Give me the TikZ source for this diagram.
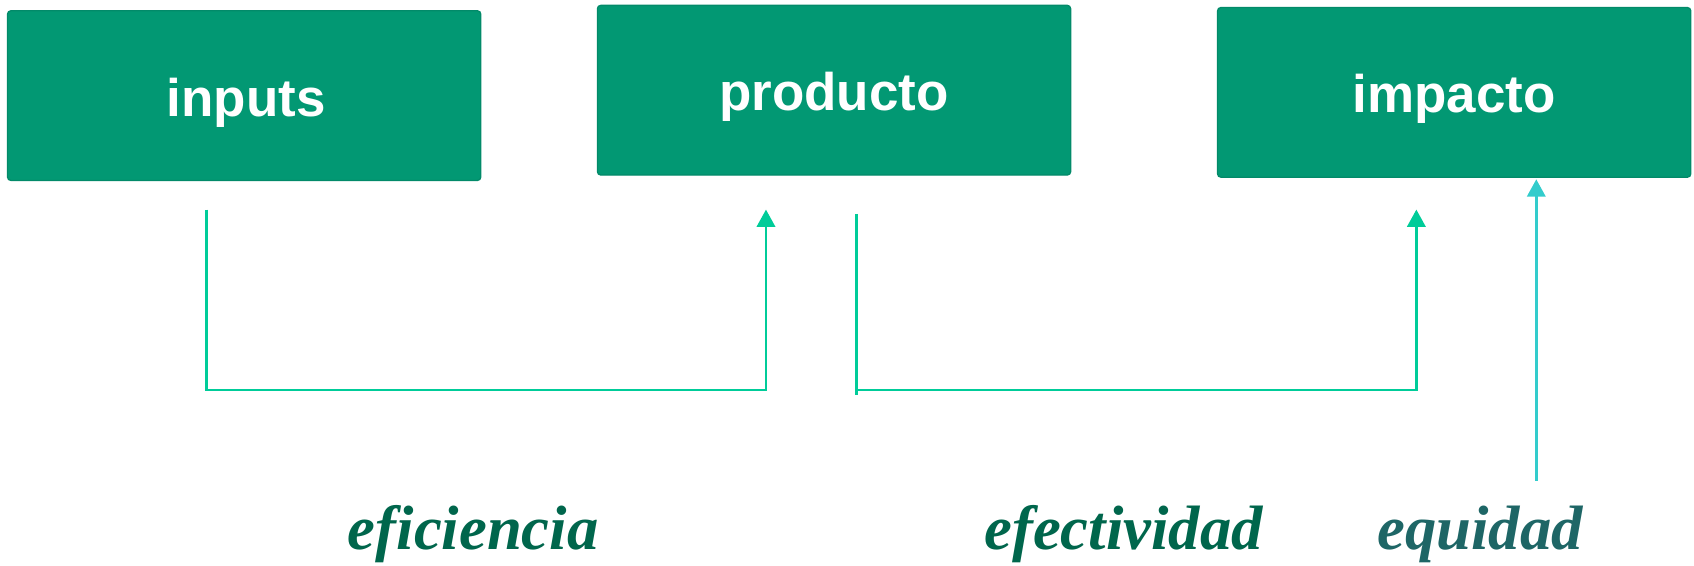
\documentclass[tikz,border=0pt]{standalone}
\usepackage{fontspec}
\setmainfont{Liberation Serif}
\setsansfont{Liberation Sans}
\usetikzlibrary{arrows.meta}
\definecolor{boxgreen}{HTML}{029873}
\definecolor{boxedge}{HTML}{028A69}
\definecolor{arrowgreen}{HTML}{00CC99}
\definecolor{arrowcyan}{HTML}{33CCCC}
\definecolor{labelgreen}{HTML}{00664C}
\definecolor{labelteal}{HTML}{1E6666}
\tikzset{
  stagebox/.style={rectangle, rounded corners=1.5pt, fill=boxgreen, draw=boxedge, line width=0.6pt,
    minimum width=219pt, minimum height=78.5pt, inner sep=0pt},
  stagetext/.style={text=white, font=\sffamily\bfseries\fontsize{24.5}{28}\selectfont, anchor=base, inner sep=0pt},
  flow/.style={draw=arrowgreen, line width=1.15pt, -{Triangle[length=8pt,width=8.5pt]}},
  flowcyan/.style={draw=arrowcyan, line width=1.15pt, -{Triangle[length=8pt,width=8.5pt]}},
  measure/.style={font=\rmfamily\bfseries\itshape\fontsize{29}{32}\selectfont, anchor=base, inner sep=0pt}
}
\begin{document}
\begin{tikzpicture}[x=0.5pt, y=-0.5pt]
\useasboundingbox (0,0) rectangle (1568,523);
\node[stagebox] (inputs) at (226,88.5) {};
\node[stagetext] (tinputs) at (228,108) {inputs};
\node[stagebox] (producto) at (772,83.5) {};
\node[stagetext] (tproducto) at (772,102) {producto};
\node[stagebox] (impacto) at (1346,85.5) {};
\node[stagetext] (timpacto) at (1346,104) {impacto};

\coordinate (s1) at (191,194);
\coordinate (e1) at (709,194);
\coordinate (s2) at (793,198);
\coordinate (b2) at (793,366);
\coordinate (e2) at (1311,194);
\coordinate (s3) at (1422,445);
\coordinate (e3) at (1422,166);

\draw[flow] (s1) -- (191,361) -- (709,361) -- (e1);
\draw[draw=arrowgreen, line width=1.15pt] (s2) -- (b2);
\draw[flow] (793,361) -- (1311,361) -- (e2);
\draw[flowcyan] (s3) -- (e3);

\node[measure, text=labelgreen] (efi) at (438,509) {eficiencia};
\node[measure, text=labelgreen] (efe) at (1040,509) {efectividad};
\node[measure, text=labelteal] (equ) at (1370,509) {equidad};
\end{tikzpicture}
\end{document}
